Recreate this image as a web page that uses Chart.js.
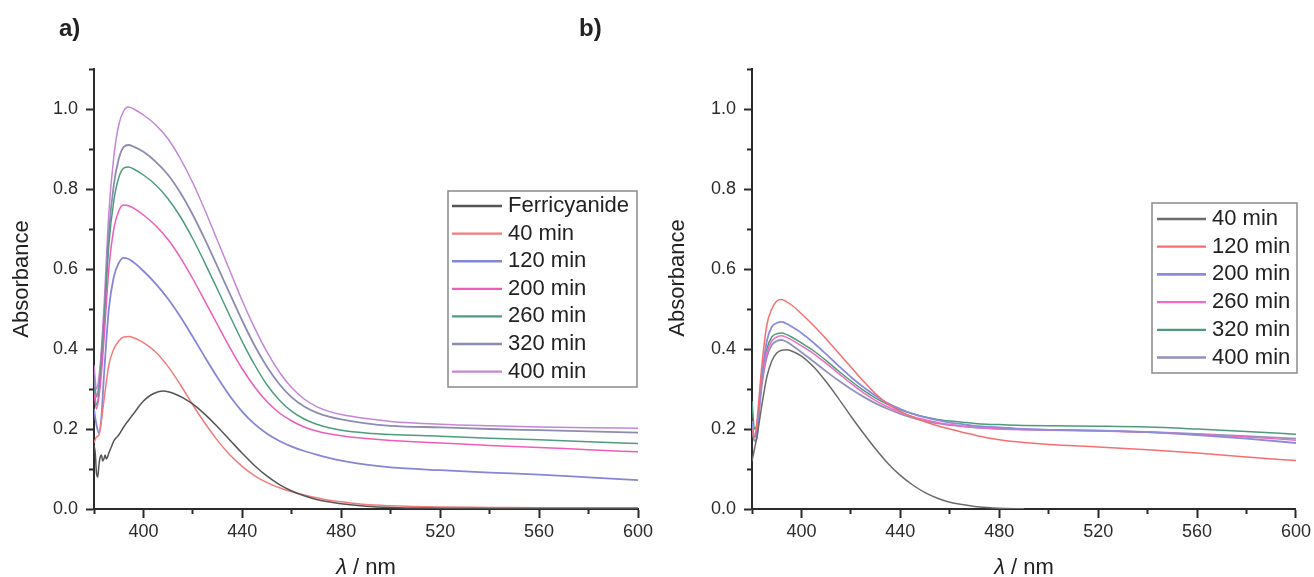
<!DOCTYPE html>
<html>
<head>
<meta charset="utf-8">
<title>Absorbance spectra</title>
<script src="https://cdn.jsdelivr.net/npm/chart.js@4/dist/chart.umd.min.js"></script>
<style>
  html, body { margin: 0; padding: 0; background: #fff; }
  body { width: 1314px; height: 577px; position: relative; overflow: hidden; }
  .panel { position: absolute; top: 0; width: 657px; height: 577px; }
  #panelA { left: 0; }
  #panelB { left: 657px; }
  .tag { position: absolute; top: 16px; font: bold 24px/24px "Liberation Sans", Arial, sans-serif; color: #222; }
</style>
</head>
<body>
<div class="panel" id="panelA"><canvas id="chartA" width="657" height="577"></canvas></div>
<div class="panel" id="panelB"><canvas id="chartB" width="657" height="577"></canvas></div>
<div class="tag" style="left:59px">a)</div>
<div class="tag" style="left:579px">b)</div>
<script>
// ---- wavelengths (nm) ----
const waveGrid = [380,381,382,383,384,386,388,390,392,394,396,400,405,410,415,420,425,430,435,440,445,450,455,460,465,470,475,480,490,500,520,540,560,580,600];
const waveFerri = [380,380.5,381,381.5,382,382.5,383,383.5,384,384.5,385,385.5,386,387,388,389,390,392,394,396,398,400,403,406,408,410,413,416,420,425,430,435,440,445,450,455,460,465,470,475,480,490,500,520,540,560,580,600];

// ---- panel a: absorbance ----
const ferricyanide = [0.16,0.14,0.09,0.08,0.11,0.13,0.135,0.12,0.125,0.135,0.125,0.13,0.14,0.155,0.17,0.178,0.185,0.205,0.222,0.238,0.255,0.27,0.285,0.293,0.295,0.293,0.287,0.278,0.262,0.236,0.205,0.172,0.139,0.108,0.082,0.061,0.045,0.033,0.024,0.018,0.013,0.007,0.004,0.002,0.001,0.001,0.001,0.001];
const a40  = [0.165,0.18,0.185,0.22,0.27,0.36,0.40,0.42,0.43,0.431,0.428,0.416,0.392,0.356,0.31,0.26,0.213,0.171,0.135,0.106,0.083,0.066,0.053,0.043,0.035,0.028,0.022,0.018,0.011,0.008,0.005,0.004,0.003,0.003,0.003];
const a120 = [0.25,0.21,0.19,0.23,0.33,0.50,0.58,0.615,0.628,0.625,0.617,0.595,0.563,0.525,0.48,0.43,0.378,0.328,0.282,0.243,0.212,0.188,0.17,0.156,0.145,0.136,0.128,0.121,0.111,0.104,0.097,0.091,0.086,0.079,0.072];
const a200 = [0.29,0.25,0.28,0.34,0.42,0.60,0.70,0.745,0.76,0.758,0.752,0.735,0.708,0.673,0.628,0.575,0.518,0.46,0.403,0.35,0.305,0.268,0.24,0.22,0.205,0.195,0.188,0.183,0.176,0.171,0.165,0.159,0.154,0.148,0.143];
const a260 = [0.30,0.26,0.29,0.36,0.45,0.66,0.77,0.828,0.852,0.855,0.85,0.835,0.81,0.775,0.73,0.675,0.613,0.548,0.482,0.418,0.36,0.31,0.272,0.244,0.225,0.212,0.203,0.197,0.19,0.186,0.182,0.177,0.173,0.168,0.164];
const a320 = [0.33,0.28,0.31,0.38,0.47,0.69,0.81,0.875,0.905,0.91,0.906,0.893,0.868,0.835,0.79,0.735,0.672,0.605,0.537,0.47,0.408,0.355,0.312,0.279,0.256,0.241,0.231,0.224,0.214,0.208,0.204,0.2,0.197,0.194,0.191];
const a400 = [0.36,0.30,0.33,0.40,0.50,0.74,0.88,0.96,0.995,1.005,1.0,0.985,0.96,0.925,0.875,0.815,0.745,0.67,0.595,0.52,0.452,0.392,0.342,0.303,0.275,0.256,0.244,0.236,0.226,0.219,0.212,0.208,0.205,0.203,0.202];

// ---- panel b: absorbance ----
const b40  = [0.12,0.15,0.18,0.22,0.26,0.33,0.37,0.39,0.397,0.398,0.395,0.382,0.355,0.318,0.276,0.232,0.19,0.15,0.114,0.084,0.06,0.041,0.027,0.017,0.011,0.0065,0.0038,0.002,0.0005,null,null,null,null,null,null];
const b120 = [0.20,0.18,0.22,0.29,0.36,0.46,0.50,0.52,0.524,0.518,0.51,0.488,0.458,0.425,0.39,0.355,0.32,0.288,0.262,0.244,0.23,0.218,0.208,0.2,0.192,0.185,0.178,0.173,0.166,0.161,0.155,0.148,0.14,0.13,0.121];
const b200 = [0.22,0.18,0.19,0.26,0.33,0.42,0.455,0.465,0.468,0.463,0.456,0.44,0.415,0.387,0.358,0.33,0.305,0.283,0.264,0.25,0.238,0.229,0.222,0.216,0.212,0.208,0.206,0.204,0.2,0.198,0.196,0.192,0.185,0.176,0.165];
const b260 = [0.21,0.18,0.20,0.26,0.32,0.39,0.42,0.43,0.433,0.429,0.423,0.408,0.388,0.364,0.339,0.314,0.291,0.271,0.255,0.242,0.231,0.223,0.216,0.211,0.207,0.204,0.202,0.2,0.198,0.197,0.195,0.192,0.187,0.18,0.172];
const b320 = [0.27,0.20,0.21,0.27,0.33,0.40,0.43,0.438,0.44,0.436,0.43,0.415,0.395,0.371,0.345,0.32,0.297,0.277,0.261,0.248,0.238,0.23,0.224,0.22,0.217,0.214,0.212,0.211,0.209,0.208,0.207,0.205,0.2,0.194,0.187];
const b400 = [0.20,0.17,0.18,0.25,0.31,0.38,0.41,0.42,0.4225,0.418,0.41,0.392,0.368,0.344,0.321,0.3,0.281,0.264,0.25,0.238,0.228,0.22,0.214,0.21,0.207,0.204,0.202,0.201,0.199,0.198,0.196,0.193,0.188,0.182,0.176];

// ---- labels ----
const labelsA = ['Ferricyanide','40 min','120 min','200 min','260 min','320 min','400 min'];
const labelsB = ['40 min','120 min','200 min','260 min','320 min','400 min'];
const yTitle = 'Absorbance';
const xTitleSymbol = 'λ';
const xTitleUnit = ' / nm';

const FONT = '"Liberation Sans", Arial, sans-serif';
const INK = '#2b2b2b';

function pts(xs, ys) {
  return xs.map((x, i) => ({ x: x, y: ys[i] }));
}

function line(label, xs, ys, color, width) {
  return {
    label: label,
    data: pts(xs, ys),
    borderColor: color,
    backgroundColor: color,
    borderWidth: width,
    pointRadius: 0,
    fill: false,
    spanGaps: false,
    cubicInterpolationMode: 'monotone'
  };
}

// Axis titles and the framed legend drawn over the plot
const panelDecor = {
  id: 'panelDecor',
  afterDraw(chart, args, o) {
    const ctx = chart.ctx;
    const area = chart.chartArea;
    ctx.save();

    // y-axis title
    ctx.fillStyle = '#222';
    ctx.font = '22px ' + FONT;
    ctx.textAlign = 'center';
    ctx.textBaseline = 'middle';
    ctx.save();
    ctx.translate(o.yTitleX, o.yTitleY);
    ctx.rotate(-Math.PI / 2);
    ctx.fillText(yTitle, 0, 0);
    ctx.restore();

    // x-axis title with italic lambda
    const italic = 'italic 22px ' + FONT;
    const normal = '22px ' + FONT;
    ctx.font = italic;
    const w1 = ctx.measureText(xTitleSymbol).width;
    ctx.font = normal;
    const w2 = ctx.measureText(xTitleUnit).width;
    const x0 = (area.left + area.right) / 2 - (w1 + w2) / 2;
    ctx.textAlign = 'left';
    ctx.font = italic;
    ctx.fillText(xTitleSymbol, x0, o.xTitleY);
    ctx.font = normal;
    ctx.fillText(xTitleUnit, x0 + w1, o.xTitleY);

    // legend frame
    const L = o.legend;
    ctx.fillStyle = '#fff';
    ctx.fillRect(L.left, L.top, L.width, L.height);
    ctx.strokeStyle = '#8a8a8a';
    ctx.lineWidth = 1.5;
    ctx.strokeRect(L.left, L.top, L.width, L.height);

    ctx.font = '22px ' + FONT;
    ctx.textBaseline = 'middle';
    ctx.textAlign = 'left';
    chart.data.datasets.forEach((ds, i) => {
      const y = L.firstRow + i * L.rowStep;
      ctx.strokeStyle = ds.borderColor;
      ctx.lineWidth = ds.borderWidth + 0.8;
      ctx.beginPath();
      ctx.moveTo(L.sampleFrom, y);
      ctx.lineTo(L.sampleTo, y);
      ctx.stroke();
      ctx.fillStyle = '#222';
      ctx.fillText(ds.label, L.textX, y);
    });
    ctx.restore();
  }
};

function isMajorX(v) { return Math.round(v) % 40 === 0; }
function isMajorY(v) { return Math.round(v * 10) % 2 === 0; }

function makeOptions(cfg) {
  return {
    responsive: false,
    animation: false,
    layout: { padding: { left: 0, top: 69, right: cfg.rightPad, bottom: 0 } },
    plugins: {
      legend: { display: false },
      tooltip: { enabled: false },
      panelDecor: cfg.decor
    },
    scales: {
      x: {
        type: 'linear',
        min: 380,
        max: 600,
        afterFit: (s) => { s.height = 68; },
        ticks: {
          stepSize: 20,
          autoSkip: false,
          maxRotation: 0,
          padding: 3,
          color: INK,
          font: { family: FONT, size: 18 },
          callback: (v) => isMajorX(v) ? String(v) : ''
        },
        grid: {
          drawOnChartArea: false,
          drawTicks: true,
          tickLength: 9,
          tickWidth: 2,
          tickColor: INK,
          tickBorderDash: (c) => (c.tick && !isMajorX(c.tick.value)) ? [4, 100] : []
        },
        border: { display: true, color: INK, width: 2 }
      },
      y: {
        type: 'linear',
        min: 0,
        max: 1.1,
        afterFit: (s) => { s.width = cfg.yWidth; },
        ticks: {
          stepSize: 0.1,
          autoSkip: false,
          padding: 8,
          color: INK,
          font: { family: FONT, size: 18 },
          callback: (v) => isMajorY(v) ? Number(v).toFixed(1) : ''
        },
        grid: {
          drawOnChartArea: false,
          drawTicks: true,
          tickLength: 8,
          tickWidth: 2,
          tickColor: INK,
          tickBorderDash: (c) => (c.tick && !isMajorY(c.tick.value)) ? [0, 3, 4, 100] : []
        },
        border: { display: true, color: INK, width: 2 }
      }
    }
  };
}

new Chart(document.getElementById('chartA'), {
  type: 'line',
  data: {
    datasets: [
      line(labelsA[0], waveFerri, ferricyanide, '#555555', 1.5),
      line(labelsA[1], waveGrid, a40,  '#f07c7c', 1.5),
      line(labelsA[2], waveGrid, a120, '#8686d6', 1.8),
      line(labelsA[3], waveGrid, a200, '#ee5cbc', 1.5),
      line(labelsA[4], waveGrid, a260, '#4e9c7e', 1.5),
      line(labelsA[5], waveGrid, a320, '#8c8cb2', 1.8),
      line(labelsA[6], waveGrid, a400, '#c586d6', 1.5)
    ]
  },
  options: makeOptions({
    rightPad: 19,
    yWidth: 94,
    decor: {
      yTitleX: 22, yTitleY: 279, xTitleY: 568,
      legend: { left: 448, top: 191, width: 189, height: 196, firstRow: 206, rowStep: 27.6, sampleFrom: 452, sampleTo: 502, textX: 508 }
    }
  }),
  plugins: [panelDecor]
});

new Chart(document.getElementById('chartB'), {
  type: 'line',
  data: {
    datasets: [
      line(labelsB[0], waveGrid, b40,  '#6b6b6b', 1.5),
      line(labelsB[1], waveGrid, b120, '#f47070', 1.5),
      line(labelsB[2], waveGrid, b200, '#8c8cdc', 1.8),
      line(labelsB[3], waveGrid, b260, '#f06cc4', 1.5),
      line(labelsB[4], waveGrid, b320, '#4f9a7a', 1.5),
      line(labelsB[5], waveGrid, b400, '#9292ba', 1.8)
    ]
  },
  options: makeOptions({
    rightPad: 17,
    yWidth: 95,
    decor: {
      yTitleX: 21, yTitleY: 278, xTitleY: 568,
      legend: { left: 495, top: 203, width: 145, height: 170, firstRow: 219, rowStep: 27.7, sampleFrom: 500, sampleTo: 549, textX: 555 }
    }
  }),
  plugins: [panelDecor]
});
</script>
</body>
</html>
